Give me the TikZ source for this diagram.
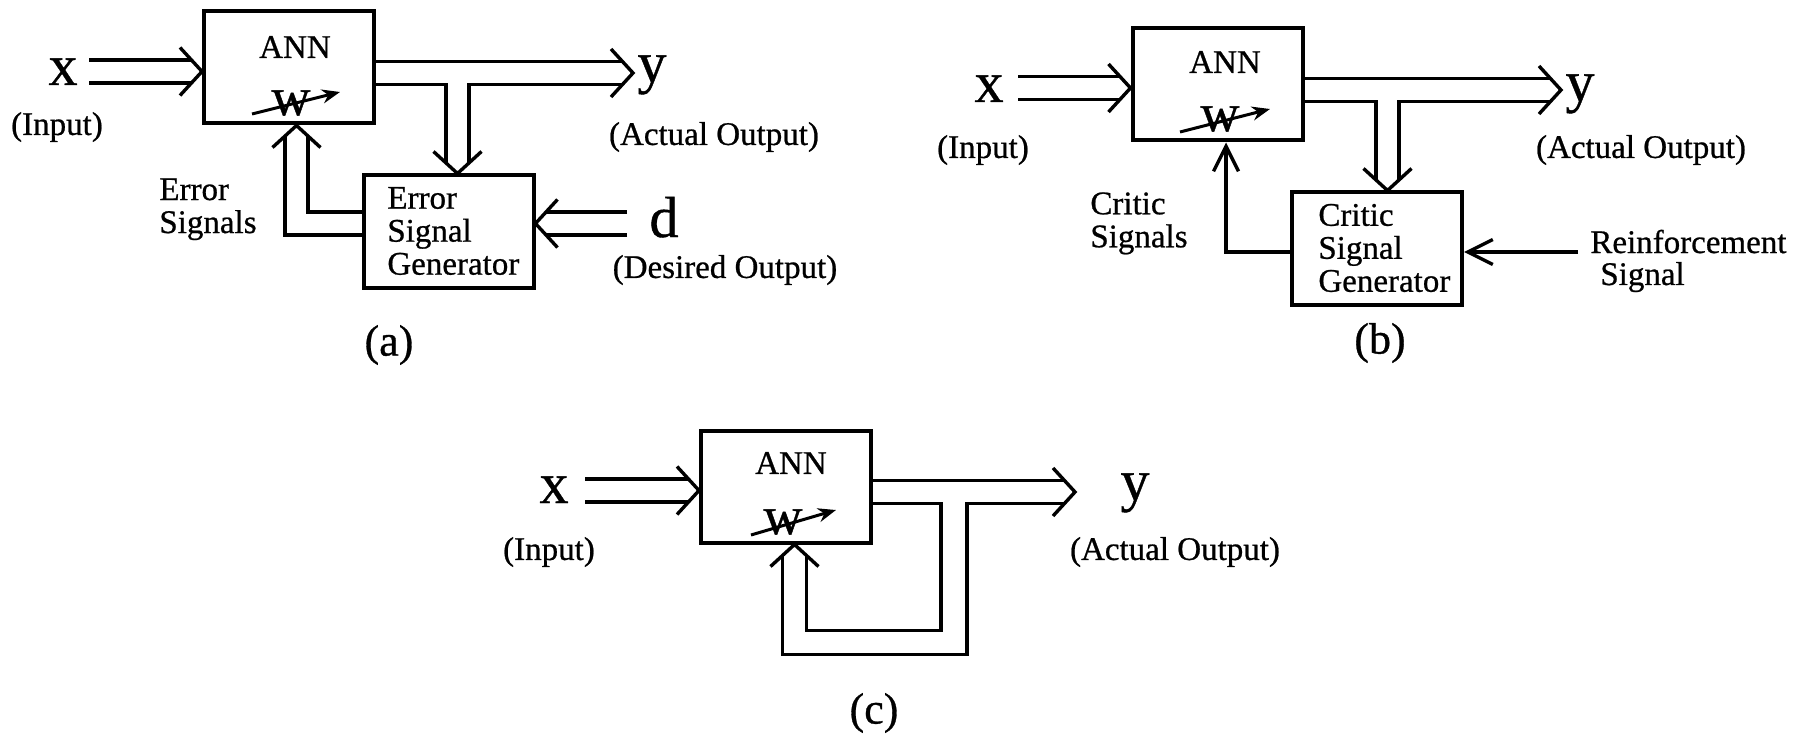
\documentclass[tikz,border=0pt]{standalone}
\usepackage{fontspec}
\setmainfont{Liberation Serif}[FakeBold=0.7]
\usetikzlibrary{calc,arrows.meta}
\tikzset{
  ln/.style={line width=1.7pt, line cap=butt, line join=miter},
  box/.style={draw, line width=2pt, minimum width=85pt, minimum height=56pt, inner sep=0pt},
  lbl/.style={font=\fontsize{16.5}{16.5}\selectfont, inner sep=0pt},
  big/.style={font=\fontsize{29}{29}\selectfont, inner sep=0pt},
  capt/.style={font=\fontsize{22}{22}\selectfont, inner sep=0pt},
  wt/.style={font=\fontsize{27}{27}\selectfont, inner sep=0pt},
  sarr/.style={ln, -{Straight Barb[length=12.5pt,width=12.5pt]}},
  warr/.style={line width=1.5pt, -{Stealth[length=9pt,width=7pt]}},
}
\newcommand\chevR[1]{\draw[ln] ($(#1)+(-22,-24)$) -- (#1) -- ($(#1)+(-22,24)$);}
\newcommand\chevL[1]{\draw[ln] ($(#1)+(22,-24)$) -- (#1) -- ($(#1)+(22,24)$);}
\newcommand\chevD[1]{\draw[ln] ($(#1)+(-24,-22)$) -- (#1) -- ($(#1)+(24,-22)$);}
\newcommand\chevU[1]{\draw[ln] ($(#1)+(-24,22)$) -- (#1) -- ($(#1)+(24,22)$);}
\begin{document}
\begin{tikzpicture}[x=0.5pt,y=-0.5pt]
\useasboundingbox (0,0) rectangle (1801,738);

% ================= (a) =================
\node[box] (annA) at (289,67.5) {};
\node[lbl] (annAt) at (295,47) {ANN};
\node[wt] (wA) at (291,103) {w};
\coordinate (wAs) at (252,114); \coordinate (wAe) at (340,92);
\draw[warr] (wAs) -- (wAe);
\node[big, anchor=base] (xA) at (63,85) {x};
\node[lbl] (inA) at (57,127) {(Input)};
\coordinate (aInS) at (89,71.5); \coordinate (aInT) at (annA.west |- aInS);
\draw[ln] ($(aInS)+(0,-11.5)$) -- ($(aInT)+(-10.5,-11.5)$);
\draw[ln] ($(aInS)+(0,11.5)$) -- ($(aInT)+(-10.5,11.5)$);
\chevR{aInT}

\node[box] (esgA) at (448.5,231.5) {};
\node[lbl, align=left, anchor=west] (esgAt) at (387,231) {Error\\Signal\\Generator};

\coordinate (aOutS) at (annA.east |- 0,73); \coordinate (aOutT) at (633,73);
\coordinate (aBr) at (457.5,73); \coordinate (aBrT) at (aBr |- esgA.north);
\draw[ln] ($(aOutS)+(0,-11.5)$) -- ($(aOutT)+(-10.5,-11.5)$);
\draw[ln] ($(aOutS)+(0,11.5)$) -- ($(aBr)+(-11.5,11.5)$) -- ($(aBrT)+(-11.5,-10.5)$);
\draw[ln] ($(aOutT)+(-10.5,11.5)$) -- ($(aBr)+(11.5,11.5)$) -- ($(aBrT)+(11.5,-10.5)$);
\chevR{aOutT}
\chevD{aBrT}
\node[big, anchor=base] (yA) at (652,82) {y};
\node[lbl] (aoA) at (714,137) {(Actual Output)};

\coordinate (aDS) at (627,223.5); \coordinate (aDT) at (esgA.east |- aDS);
\draw[ln] ($(aDS)+(0,-11.5)$) -- ($(aDT)+(10.5,-11.5)$);
\draw[ln] ($(aDS)+(0,11.5)$) -- ($(aDT)+(10.5,11.5)$);
\chevL{aDT}
\node[big, anchor=base] (dA) at (664,237) {d};
\node[lbl] (doA) at (725,270) {(Desired Output)};

\coordinate (aFb) at (296.5,223.5); \coordinate (aFbT) at (aFb |- annA.south);
\coordinate (aFbS) at (esgA.west |- aFb);
\draw[ln] ($(aFbS)+(0,-11.5)$) -- ($(aFb)+(11.5,-11.5)$) -- ($(aFbT)+(11.5,10.5)$);
\draw[ln] ($(aFbS)+(0,11.5)$) -- ($(aFb)+(-11.5,11.5)$) -- ($(aFbT)+(-11.5,10.5)$);
\chevU{aFbT}
\node[lbl, align=left, anchor=north west] (esA) at (159,178) {Error\\Signals};
\node[capt] (capA) at (389,345) {(a)};

% ================= (b) =================
\node[box] (annB) at (1217.5,84.5) {};
\node[lbl] (annBt) at (1225,62) {ANN};
\node[wt] (wB) at (1220,119) {w};
\coordinate (wBs) at (1180,132); \coordinate (wBe) at (1270,109);
\draw[warr] (wBs) -- (wBe);
\node[big, anchor=base] (xB) at (989,102) {x};
\node[lbl] (inB) at (983,150) {(Input)};
\coordinate (bInS) at (1018,88); \coordinate (bInT) at (annB.west |- bInS);
\draw[ln] ($(bInS)+(0,-11.5)$) -- ($(bInT)+(-10.5,-11.5)$);
\draw[ln] ($(bInS)+(0,11.5)$) -- ($(bInT)+(-10.5,11.5)$);
\chevR{bInT}

\node[box] (csgB) at (1377,248.5) {};
\node[lbl, align=left, anchor=west] (csgBt) at (1318,248) {Critic\\Signal\\Generator};

\coordinate (bOutS) at (annB.east |- 0,90); \coordinate (bOutT) at (1561,90);
\coordinate (bBr) at (1387.5,90); \coordinate (bBrT) at (bBr |- csgB.north);
\draw[ln] ($(bOutS)+(0,-11.5)$) -- ($(bOutT)+(-10.5,-11.5)$);
\draw[ln] ($(bOutS)+(0,11.5)$) -- ($(bBr)+(-11.5,11.5)$) -- ($(bBrT)+(-11.5,-10.5)$);
\draw[ln] ($(bOutT)+(-10.5,11.5)$) -- ($(bBr)+(11.5,11.5)$) -- ($(bBrT)+(11.5,-10.5)$);
\chevR{bOutT}
\chevD{bBrT}
\node[big, anchor=base] (yB) at (1580,101) {y};
\node[lbl] (aoB) at (1641,150) {(Actual Output)};

\coordinate (bFb) at (1226,252); \coordinate (bFbS) at (csgB.west |- bFb);
\coordinate (bFbT) at (bFb |- annB.south);
\draw[sarr] (bFbS) -- (bFb) -- (bFbT);
\coordinate (bRS) at (1578,252); \coordinate (bRT) at (csgB.east |- bRS);
\draw[sarr] (bRS) -- (bRT);
\node[lbl, anchor=base west] (reB) at (1590,253) {Reinforcement};
\node[lbl, anchor=base west] (rsB) at (1600,285) {Signal};
\node[lbl, align=left, anchor=north west] (csB) at (1090,192) {Critic\\Signals};
\node[capt] (capB) at (1380,343) {(b)};

% ================= (c) =================
\node[box] (annC) at (786,486.5) {};
\node[lbl] (annCt) at (791,463) {ANN};
\node[wt] (wC) at (783,522) {w};
\coordinate (wCs) at (751,535); \coordinate (wCe) at (836,510);
\draw[warr] (wCs) -- (wCe);
\node[big, anchor=base] (xC) at (554,503) {x};
\node[lbl] (inC) at (549,552) {(Input)};
\coordinate (cInS) at (585,490.5); \coordinate (cInT) at (annC.west |- cInS);
\draw[ln] ($(cInS)+(0,-11.5)$) -- ($(cInT)+(-10.5,-11.5)$);
\draw[ln] ($(cInS)+(0,11.5)$) -- ($(cInT)+(-10.5,11.5)$);
\chevR{cInT}

\coordinate (cOutS) at (annC.east |- 0,492); \coordinate (cOutT) at (1075,492);
\coordinate (cBr) at (954,642.5); \coordinate (cBl) at (794.5,642.5);
\coordinate (cFbT) at (cBl |- annC.south);
\draw[ln] ($(cOutS)+(0,-11.5)$) -- ($(cOutT)+(-10.5,-11.5)$);
\draw[ln] ($(cOutS)+(0,11.5)$) -- ($(cBr |- cOutS)+(-13,11.5)$) -- ($(cBr)+(-13,-12)$)
   -- ($(cBl)+(12,-12)$) -- ($(cFbT)+(12,10.5)$);
\draw[ln] ($(cOutT)+(-10.5,11.5)$) -- ($(cBr |- cOutS)+(13,11.5)$) -- ($(cBr)+(13,12)$)
   -- ($(cBl)+(-12,12)$) -- ($(cFbT)+(-12,10.5)$);
\chevR{cOutT}
\chevU{cFbT}
\node[big, anchor=base] (yC) at (1135,500) {y};
\node[lbl] (aoC) at (1175,552) {(Actual Output)};
\node[capt] (capC) at (874,713) {(c)};
\end{tikzpicture}
\end{document}
